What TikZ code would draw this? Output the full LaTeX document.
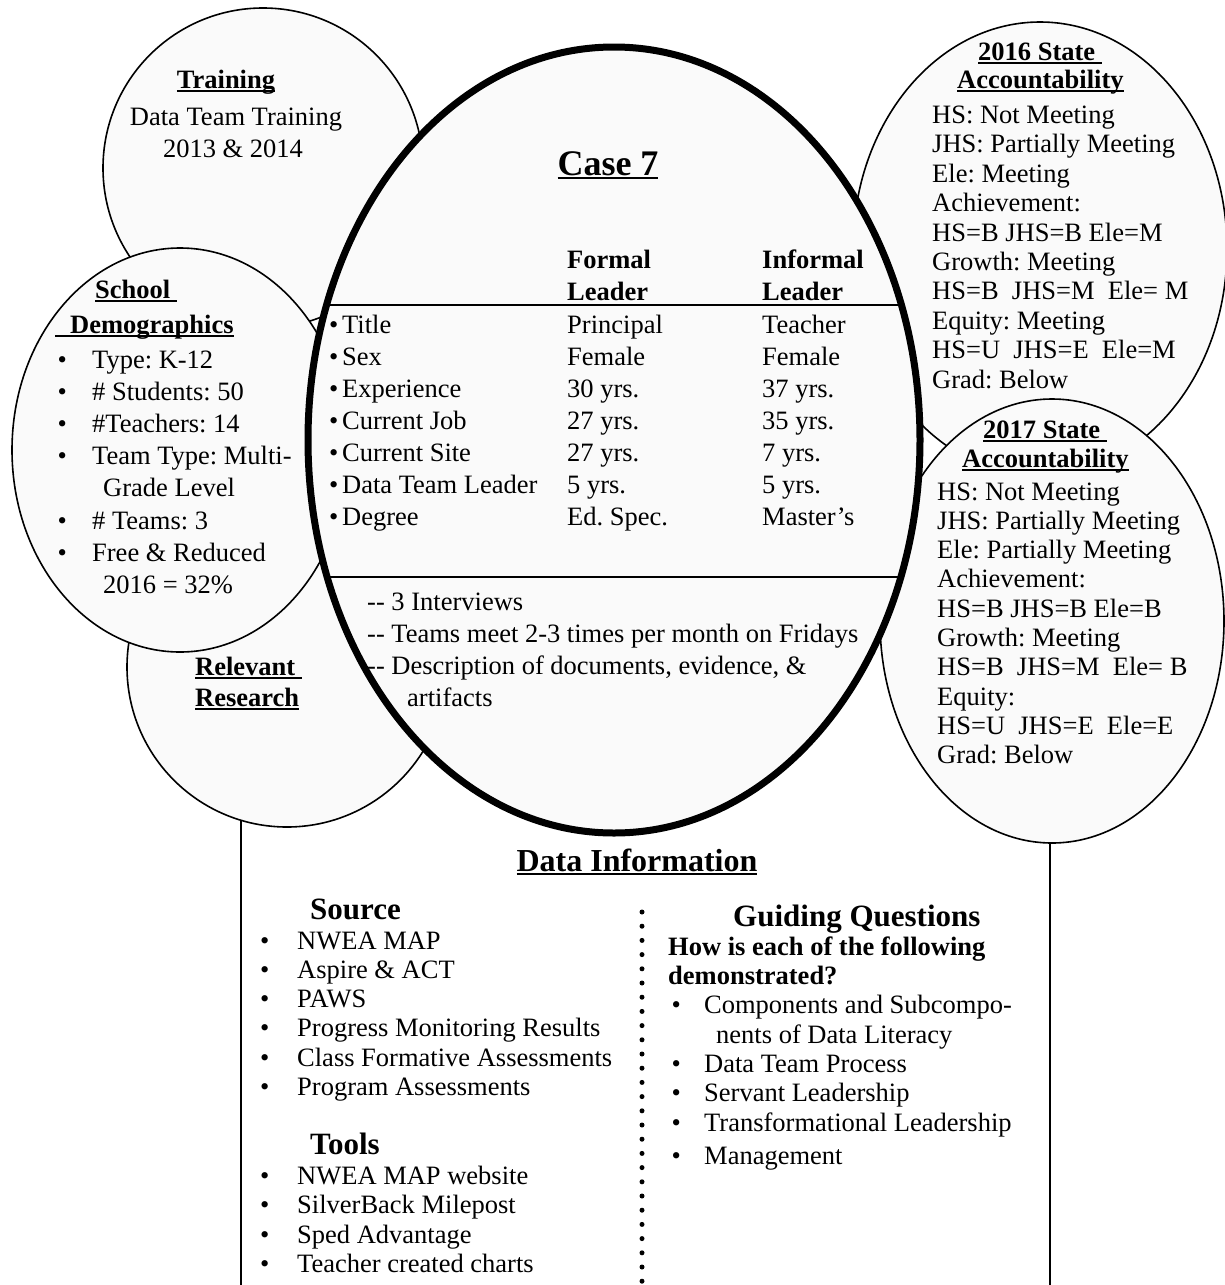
\documentclass[tikz,border=0pt]{standalone}
\usepackage{fontspec}
\setmainfont{Liberation Serif}
\usetikzlibrary{shapes.geometric}
\frenchspacing

% underline drawn as a rule under the boxed text
\newsavebox\ulsave
\newcommand{\undl}[1]{\sbox\ulsave{#1}\rlap{\rule[-4pt]{\wd\ulsave}{2.2pt}}\usebox\ulsave}

\begin{document}
\begin{tikzpicture}[x=1pt, y=-1pt,
  bubble/.style={ellipse, draw, line width=1.6pt, fill=black!2, inner sep=0pt},
  casebubble/.style={bubble, line width=7pt},
  panel/.style={rectangle, draw, line width=1.6pt, fill=white, inner sep=0pt, anchor=north west},
  txt/.style={inner sep=0pt, anchor=base west, font=\fontsize{26.5}{30}\selectfont},
  ctxt/.style={txt, anchor=base},
  head/.style={txt, font=\fontsize{26.5}{30}\selectfont\bfseries},
  sub/.style={txt, font=\fontsize{31}{34}\selectfont\bfseries},
  divider/.style={line width=2.6pt},
]
\useasboundingbox (0,0) rectangle (1225,1285);
\begin{scope}
\clip (0,0) rectangle (1225,1285);

% shapes, back to front
\node[panel, minimum width=809, minimum height=720] (datainfo) at (240,600) {};
\node[bubble, minimum width=320, minimum height=320] (train) at (263,168) {};
\node[bubble, minimum width=320, minimum height=320] (relevant) at (287,667) {};
\node[bubble, minimum width=336, minimum height=404] (school) at (180,450) {};
\node[bubble, minimum width=374, minimum height=454] (acc16) at (1040,249) {};
\node[bubble, minimum width=344, minimum height=444] (acc17) at (1052,621) {};
\node[casebubble, minimum width=612, minimum height=786] (case) at (614,440) {};

% table rules inside the case ellipse
\coordinate (d1w) at (327,305);
\coordinate (d1e) at (901,305);
\coordinate (d2w) at (327,577);
\coordinate (d2e) at (901,577);
\draw[divider] (d1w) -- (d1e);
\draw[divider] (d2w) -- (d2e);

% dotted column separator
\foreach \k in {0,...,26}
  \fill (642,912+14.2*\k) circle (2.5pt);
\end{scope}

% Training
\node[head, anchor=base] (trainhead) at (226,88) {\undl{Training}};
\node[ctxt] (train1) at (236,125) {Data Team Training};
\node[ctxt] (train2) at (233,157) {2013 \& 2014};

% Case 7
\node[inner sep=0pt, anchor=base, font=\fontsize{36}{40}\selectfont\bfseries] (casehead) at (608,175) {\undl{Case 7}};
\node[head] (fhead1) at (567,268) {Formal};
\node[head] (fhead2) at (567,300) {Leader};
\node[head] (ihead1) at (762,268) {Informal};
\node[head] (ihead2) at (762,300) {Leader};
\foreach \lab/\fv/\iv [count=\k] in {Title/Principal/Teacher, Sex/Female/Female,
    Experience/30 yrs./37 yrs., Current Job/27 yrs./35 yrs., Current Site/27 yrs./7 yrs.,
    Data Team Leader/5 yrs./5 yrs., Degree/Ed. Spec./Master’s} {
  \node[txt] (rowlab-\k) at (329,301+32*\k) {\makebox[13pt][l]{•}\lab};
  \node[txt] (rowf-\k) at (567,301+32*\k) {\fv};
  \node[txt] (rowi-\k) at (762,301+32*\k) {\iv};
}
\node[txt] (note1) at (367,610) {-{}- 3 Interviews};
\node[txt] (note2) at (367,642) {-{}- Teams meet 2-3 times per month on Fridays};
\node[txt] (note3) at (367,674) {-{}- Description of documents, evidence, \&};
\node[txt] (note4) at (407,706) {artifacts};

% School demographics
\node[head] (schhead1) at (95,298) {\undl{School\ }};
\node[head] (schhead2) at (55,333) {\undl{\hspace*{15pt}Demographics}};
\foreach \yy/\itm [count=\k] in {368/Type: K-12, 400/\# Students: 50, 432/\#Teachers: 14,
    464/Team Type: Multi-, 529/\# Teams: 3, 561/Free \& Reduced} {
  \node[txt] (sch-\k) at (57.5,\yy) {\makebox[34.5pt][l]{•}\itm};
}
\node[txt] (sch-cont1) at (103,496) {Grade Level};
\node[txt] (sch-cont2) at (103,593) {2016 = 32\%};

% Relevant research
\node[head] (relhead1) at (195,675) {\undl{Relevant\ }};
\node[head] (relhead2) at (195,706) {\undl{Research}};

% 2016 state accountability
\node[head] (h16a) at (978,60) {\undl{2016 State\ }};
\node[head] (h16b) at (957,88) {\undl{Accountability}};
\foreach \itm [count=\k] in {HS: Not Meeting, JHS: Partially Meeting, Ele: Meeting,
    Achievement:, HS=B JHS=B Ele=M, Growth: Meeting, HS=B~ JHS=M~ Ele= M,
    Equity: Meeting, HS=U~ JHS=E~ Ele=M, Grad: Below} {
  \node[txt] (s16-\k) at (932,94.1+29.4*\k) {\itm};
}

% 2017 state accountability
\node[head] (h17a) at (983,438) {\undl{2017 State\ }};
\node[head] (h17b) at (962,467) {\undl{Accountability}};
\foreach \itm [count=\k] in {HS: Not Meeting, JHS: Partially Meeting, Ele: Partially Meeting,
    Achievement:, HS=B JHS=B Ele=B, Growth: Meeting, HS=B~ JHS=M~ Ele= B,
    Equity:, HS=U~ JHS=E~ Ele=E, Grad: Below} {
  \node[txt] (s17-\k) at (937,470.7+29.3*\k) {\itm};
}

% Data information panel
\node[inner sep=0pt, anchor=base, font=\fontsize{32}{36}\selectfont\bfseries] (dihead) at (637,871) {\undl{Data Information}};
\node[sub] (srchead) at (310,919) {Source};
\foreach \itm [count=\k] in {NWEA MAP, Aspire \& ACT, PAWS, Progress Monitoring Results,
    Class Formative Assessments, Program Assessments} {
  \node[txt] (src-\k) at (260,919.7+29.3*\k) {\makebox[37pt][l]{•}\itm};
}
\node[sub] (toolhead) at (310,1154) {Tools};
\foreach \itm [count=\k] in {NWEA MAP website, SilverBack Milepost, Sped Advantage,
    Teacher created charts} {
  \node[txt] (tool-\k) at (260,1154.5+29.5*\k) {\makebox[37pt][l]{•}\itm};
}
\node[sub] (gqhead) at (733,926) {Guiding Questions};
\node[head] (gq1) at (668,955) {How is each of the following};
\node[head] (gq2) at (668,984) {demonstrated?};
\foreach \yy/\itm [count=\k] in {1013/Components and Subcompo-, 1072/Data Team Process,
    1101/Servant Leadership, 1131/Transformational Leadership, 1164/Management} {
  \node[txt] (gqi-\k) at (671.5,\yy) {\makebox[32.5pt][l]{•}\itm};
}
\node[txt] (gqi-cont) at (716,1043) {nents of Data Literacy};
\end{tikzpicture}
\end{document}
